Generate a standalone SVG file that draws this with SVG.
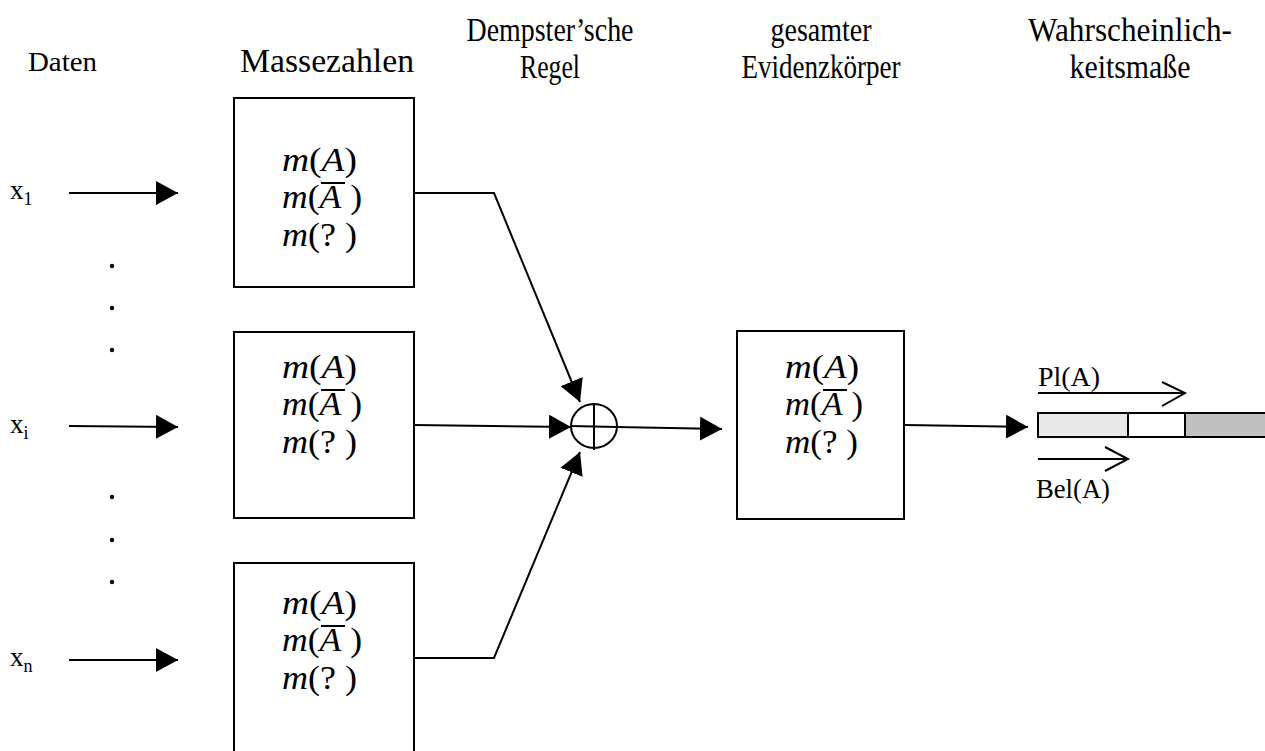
<svg xmlns="http://www.w3.org/2000/svg" width="1265" height="751" viewBox="0 0 1265 751">
<defs>
<style>
text{font-family:"Liberation Serif","Times New Roman",serif;fill:#000}
.h{font-size:34px;text-anchor:middle}
.m{font-size:34px}
.i{font-style:italic}
.box{fill:#fff;stroke:#000;stroke-width:2}
.ln{fill:none;stroke:#000;stroke-width:2}
.lab{font-size:27px}
.sub{font-size:18px}
</style>
<marker id="ah" viewBox="0 0 22 24" refX="22" refY="12" markerWidth="22" markerHeight="24" markerUnits="userSpaceOnUse" orient="auto">
<path d="M0,0 L22,12 L0,24 Z" fill="#000"/>
</marker>
</defs>
<rect width="1265" height="751" fill="#fff"/>
<g id="headers">
<text x="28" y="71" style="font-size:28px" textLength="69" lengthAdjust="spacingAndGlyphs">Daten</text>
<text x="240" y="72" style="font-size:34px" textLength="174" lengthAdjust="spacingAndGlyphs">Massezahlen</text>
<text class="h" x="550" y="41" textLength="167" lengthAdjust="spacingAndGlyphs">Dempster’sche</text>
<text class="h" x="550" y="78" textLength="60" lengthAdjust="spacingAndGlyphs">Regel</text>
<text class="h" x="821" y="41" textLength="101" lengthAdjust="spacingAndGlyphs">gesamter</text>
<text class="h" x="821" y="78" textLength="159" lengthAdjust="spacingAndGlyphs">Evidenzkörper</text>
<text class="h" x="1130" y="41" textLength="204" lengthAdjust="spacingAndGlyphs">Wahrscheinlich-</text>
<text class="h" x="1130" y="78" textLength="121" lengthAdjust="spacingAndGlyphs">keitsmaße</text>
</g>
<g id="inputs">
<text class="lab" x="10" y="199">x<tspan class="sub" dy="6">1</tspan></text>
<text class="lab" x="10" y="433">x<tspan class="sub" dy="6">i</tspan></text>
<text class="lab" x="10" y="666">x<tspan class="sub" dy="6">n</tspan></text>
<g id="dots" fill="#000">
<circle cx="112" cy="266" r="2.2"/><circle cx="112" cy="308" r="2.2"/><circle cx="112" cy="350" r="2.2"/>
<circle cx="112" cy="497" r="2.2"/><circle cx="112" cy="540" r="2.2"/><circle cx="112" cy="582" r="2.2"/>
</g>
</g>
<g id="mass1">
<rect class="box" x="234" y="98" width="180" height="189"/>
<text class="m" x="282" y="171" textLength="75" lengthAdjust="spacingAndGlyphs"><tspan class="i">m</tspan>(<tspan class="i">A</tspan>)</text>
<text class="m" x="282" y="208" textLength="80" lengthAdjust="spacingAndGlyphs"><tspan class="i">m</tspan>(<tspan class="i">A</tspan> )</text>
<line x1="321" y1="183" x2="345" y2="183" class="ln"/>
<text class="m" x="282" y="246" textLength="75" lengthAdjust="spacingAndGlyphs"><tspan class="i">m</tspan>(? )</text>
</g>
<g id="mass2">
<rect class="box" x="234" y="332" width="180" height="186"/>
<text class="m" x="282" y="378" textLength="75" lengthAdjust="spacingAndGlyphs"><tspan class="i">m</tspan>(<tspan class="i">A</tspan>)</text>
<text class="m" x="282" y="415" textLength="80" lengthAdjust="spacingAndGlyphs"><tspan class="i">m</tspan>(<tspan class="i">A</tspan> )</text>
<line x1="321" y1="390" x2="345" y2="390" class="ln"/>
<text class="m" x="282" y="453" textLength="75" lengthAdjust="spacingAndGlyphs"><tspan class="i">m</tspan>(? )</text>
</g>
<g id="mass3">
<rect class="box" x="234" y="563" width="180" height="200"/>
<text class="m" x="282" y="614" textLength="75" lengthAdjust="spacingAndGlyphs"><tspan class="i">m</tspan>(<tspan class="i">A</tspan>)</text>
<text class="m" x="282" y="651" textLength="80" lengthAdjust="spacingAndGlyphs"><tspan class="i">m</tspan>(<tspan class="i">A</tspan> )</text>
<line x1="321" y1="626" x2="345" y2="626" class="ln"/>
<text class="m" x="282" y="689" textLength="75" lengthAdjust="spacingAndGlyphs"><tspan class="i">m</tspan>(? )</text>
</g>
<g id="combine">
<ellipse cx="594" cy="426" rx="23" ry="22" class="ln"/>
<line x1="594" y1="404" x2="594" y2="450" class="ln"/>
<line x1="571" y1="426" x2="617" y2="427" class="ln"/>
</g>
<g id="total">
<rect class="box" x="737" y="331" width="167" height="188"/>
<text class="m" x="785" y="378" textLength="74" lengthAdjust="spacingAndGlyphs"><tspan class="i">m</tspan>(<tspan class="i">A</tspan>)</text>
<text class="m" x="785" y="415" textLength="78" lengthAdjust="spacingAndGlyphs"><tspan class="i">m</tspan>(<tspan class="i">A</tspan> )</text>
<line x1="823" y1="390" x2="847" y2="390" class="ln"/>
<text class="m" x="785" y="453" textLength="73" lengthAdjust="spacingAndGlyphs"><tspan class="i">m</tspan>(? )</text>
</g>
<g id="measures">
<rect x="1038" y="413" width="90" height="24" fill="#e8e8e8" stroke="#000" stroke-width="2"/>
<rect x="1128" y="413" width="57" height="24" fill="#fff" stroke="#000" stroke-width="2"/>
<rect x="1185" y="413" width="90" height="24" fill="#c0c0c0" stroke="#000" stroke-width="2"/>
<path class="ln" d="M1038,393 H1185 M1162,382 L1185,393 L1162,406"/>
<path class="ln" d="M1038,459 H1128 M1105,447 L1128,459 L1105,471"/>
<text x="1038" y="386" style="font-size:27px" textLength="62" lengthAdjust="spacingAndGlyphs">Pl(A)</text>
<text x="1036" y="498" style="font-size:27px" textLength="74" lengthAdjust="spacingAndGlyphs">Bel(A)</text>
</g>
<g id="connectors">
<line class="ln" x1="69" y1="193" x2="178" y2="193" marker-end="url(#ah)"/>
<line class="ln" x1="69" y1="426" x2="178" y2="427" marker-end="url(#ah)"/>
<line class="ln" x1="69" y1="660" x2="178" y2="660" marker-end="url(#ah)"/>
<polyline class="ln" points="414,193 494,193 580,402" marker-end="url(#ah)"/>
<line class="ln" x1="414" y1="425" x2="571" y2="427" marker-end="url(#ah)"/>
<polyline class="ln" points="414,658 494,658 580,452" marker-end="url(#ah)"/>
<line class="ln" x1="617" y1="427" x2="722" y2="429" marker-end="url(#ah)"/>
<line class="ln" x1="904" y1="425" x2="1028" y2="427" marker-end="url(#ah)"/>
</g>
</svg>
